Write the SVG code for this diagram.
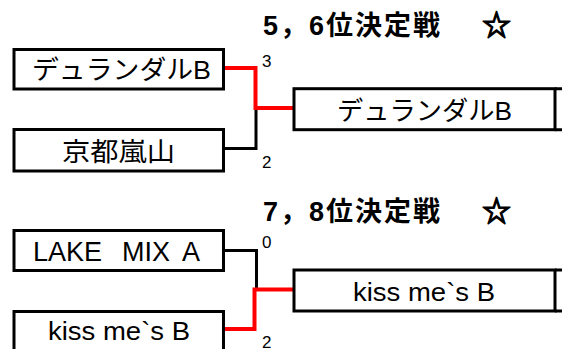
<svg xmlns="http://www.w3.org/2000/svg" width="562" height="349" viewBox="0 0 562 349">
<style>
.box{fill:#fff;stroke:#000;stroke-width:3}
.ext{stroke:#000;stroke-width:3;fill:none}
.t{font-family:"Liberation Sans","Noto Sans CJK JP",sans-serif;font-size:26px;fill:#000}
.title{font-family:"Liberation Sans","Noto Sans CJK JP",sans-serif;font-size:27px;font-weight:bold;fill:#000}
.star{font-family:"Noto Sans CJK JP",sans-serif;font-size:29px;font-weight:bold;fill:#000;stroke:#000;stroke-width:1.2}
.n{font-family:"Liberation Sans",sans-serif;font-size:17px;fill:#000}
.win{fill:none;stroke:#f00;stroke-width:4}
.lose{fill:none;stroke:#000;stroke-width:3}
</style>
<rect width="562" height="349" fill="#fff"/>
<g id="titles">
<text class="title" x="263" y="35" textLength="177" lengthAdjust="spacing">5，6位決定戦</text>
<text class="star" x="482" y="36">☆</text>
<text class="title" x="263" y="221" textLength="177" lengthAdjust="spacing">7，8位決定戦</text>
<text class="star" x="482" y="222">☆</text>
</g>
<g id="connectors">
<path class="lose" d="M223,148.5 H256 V108"/>
<path class="win" d="M223,68 H255.5 V108 H294"/>
<path class="lose" d="M223,250.5 H256.5 V289"/>
<path class="win" d="M223,329 H254.5 V289.5 H294"/>
</g>
<g id="scores">
<text class="n" x="262" y="66.5">3</text>
<text class="n" x="262" y="168">2</text>
<text class="n" x="262" y="248">0</text>
<text class="n" x="262" y="348">2</text>
</g>
<g id="node-durandal-b">
<rect class="box" x="14" y="49.5" width="209.5" height="39.5"/>
<text class="t" x="32" y="79" textLength="179" lengthAdjust="spacingAndGlyphs">デュランダルB</text>
</g>
<g id="node-kyoto-arashiyama">
<rect class="box" x="14" y="129.5" width="209.5" height="41.5"/>
<text class="t" x="62" y="161" textLength="113" lengthAdjust="spacingAndGlyphs">京都嵐山</text>
</g>
<g id="node-winner-56">
<rect class="box" x="294" y="88.7" width="261" height="41"/>
<path class="ext" d="M555,88.7 H562 M555,129.7 H562"/>
<text class="t" x="337" y="120" textLength="175" lengthAdjust="spacingAndGlyphs">デュランダルB</text>
</g>
<g id="node-lake-mix-a">
<rect class="box" x="14" y="230.5" width="209.5" height="40"/>
<text class="t" y="261" style="font-size:27px"><tspan x="33">LAKE</tspan><tspan x="122">MIX</tspan><tspan x="182">A</tspan></text>
</g>
<g id="node-kiss-me-s-b">
<rect class="box" x="14" y="311.5" width="209.5" height="50"/>
<text class="t" x="48" y="340" textLength="142" lengthAdjust="spacingAndGlyphs">kiss me`s B</text>
</g>
<g id="node-winner-78">
<rect class="box" x="294" y="270" width="261" height="41"/>
<path class="ext" d="M555,270 H562 M555,311 H562"/>
<text class="t" x="353" y="300.5" textLength="142" lengthAdjust="spacingAndGlyphs">kiss me`s B</text>
</g>
</svg>
